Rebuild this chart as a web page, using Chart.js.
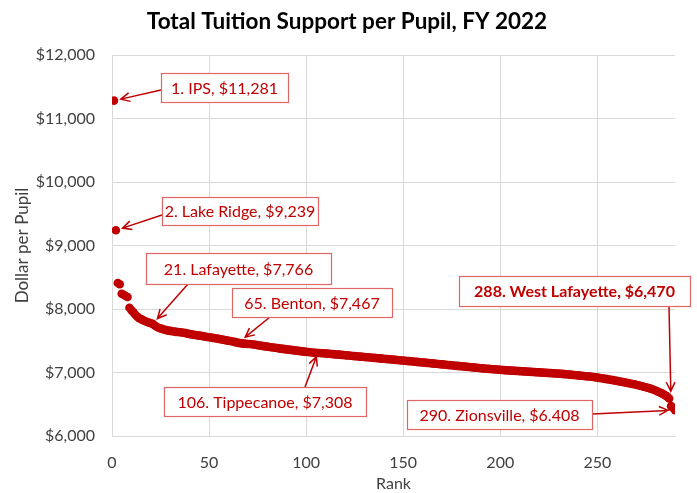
<!DOCTYPE html>
<html>
<head>
<meta charset="utf-8">
<script src="https://cdn.jsdelivr.net/npm/chart.js@4"></script>
<style>
  html, body { margin: 0; padding: 0; background: #fff; }
  canvas { display: block; }
</style>
</head>
<body>
<canvas id="chart" width="697" height="493"></canvas>
<script>
// tuition support per pupil, ordered by rank (1 = highest)
const values = [
  11281, 9239, 8410, 8390, 8240, 8225, 8205, 8190, 8020, 7980,
  7950, 7910, 7880, 7855, 7840, 7825, 7810, 7795, 7785, 7775,
  7766, 7740, 7720, 7705, 7695, 7685, 7675, 7665, 7660, 7655,
  7650, 7645, 7640, 7638, 7635, 7630, 7625, 7620, 7612, 7605,
  7600, 7595, 7590, 7585, 7580, 7576, 7570, 7565, 7560, 7555,
  7550, 7545, 7540, 7535, 7530, 7524, 7518, 7512, 7506, 7500,
  7495, 7488, 7482, 7475, 7467, 7462, 7458, 7455, 7452, 7450,
  7448, 7445, 7440, 7436, 7430, 7425, 7420, 7416, 7412, 7408,
  7402, 7398, 7393, 7389, 7385, 7380, 7376, 7372, 7368, 7364,
  7360, 7356, 7352, 7348, 7345, 7340, 7336, 7332, 7328, 7325,
  7322, 7318, 7315, 7312, 7310, 7308, 7306, 7304, 7302, 7300,
  7297, 7295, 7292, 7289, 7286, 7283, 7281, 7278, 7275, 7272,
  7270, 7267, 7264, 7261, 7258, 7256, 7253, 7250, 7247, 7244,
  7241, 7239, 7236, 7233, 7230, 7228, 7225, 7222, 7219, 7216,
  7213, 7210, 7208, 7205, 7202, 7199, 7196, 7193, 7190, 7188,
  7185, 7182, 7179, 7176, 7173, 7170, 7167, 7164, 7161, 7158,
  7155, 7152, 7149, 7146, 7143, 7140, 7137, 7134, 7131, 7128,
  7125, 7122, 7119, 7116, 7113, 7110, 7107, 7104, 7101, 7098,
  7095, 7092, 7089, 7086, 7083, 7080, 7077, 7074, 7071, 7068,
  7065, 7062, 7059, 7057, 7055, 7052, 7050, 7047, 7045, 7042,
  7040, 7038, 7036, 7034, 7032, 7030, 7028, 7026, 7024, 7022,
  7020, 7018, 7016, 7014, 7012, 7010, 7008, 7006, 7004, 7002,
  7000, 6998, 6996, 6994, 6992, 6990, 6988, 6986, 6984, 6982,
  6980, 6978, 6975, 6972, 6969, 6966, 6963, 6960, 6957, 6954,
  6951, 6948, 6945, 6942, 6939, 6936, 6932, 6928, 6924, 6920,
  6915, 6910, 6905, 6900, 6895, 6890, 6885, 6880, 6874, 6868,
  6862, 6856, 6850, 6844, 6838, 6832, 6826, 6820, 6814, 6808,
  6800, 6792, 6784, 6776, 6768, 6760, 6750, 6740, 6728, 6716,
  6702, 6688, 6675, 6660, 6640, 6620, 6590, 6470, 6440, 6408
]

const noteTexts = [
  '1. IPS, $11,281',
  '2. Lake Ridge, $9,239',
  '21. Lafayette, $7,766',
  '65. Benton, $7,467',
  '106. Tippecanoe, $7,308',
  '288. West Lafayette, $6,470',
  '290. Zionsville, $6.408'
]
const noteRanks = [1, 2, 21, 65, 106, 288, 290]

const title = 'Total Tuition Support per Pupil, FY 2022'
const xTitle = 'Rank'
const yTitle = 'Dollar per Pupil'
const xMax = 290, xStep = 50
const yMin = 6000, yMax = 12000, yStep = 1000

const red = '#c00000', boxLine = '#e06666', textColor = '#404040', gridColor = '#d9d9d9'
const font = 'Lato, "Open Sans", sans-serif'

// box: x, y, w, h, arrow start sx, sy, gap before point, bold
const noteBoxes = [
  [161, 73, 127, 29, 161, 90, 7, false],
  [162, 197, 156, 28, 162, 215, 7, false],
  [146, 253, 185, 31, 188, 284, 7, false],
  [232, 288, 160, 29, 270, 317, 9, false],
  [164, 387, 202, 29, 305, 387, 4, false],
  [459, 276, 231, 30, 669, 306, 15, true],
  [407, 400, 185, 29, 592, 414, 7, false]
]

const drawArrow = (ctx, sx, sy, tx, ty) => {
  const a = Math.atan2(ty - sy, tx - sx), head = 10
  ctx.beginPath()
  ctx.moveTo(sx, sy)
  ctx.lineTo(tx, ty)
  ctx.moveTo(tx - head * Math.cos(a - 0.45), ty - head * Math.sin(a - 0.45))
  ctx.lineTo(tx, ty)
  ctx.lineTo(tx - head * Math.cos(a + 0.45), ty - head * Math.sin(a + 0.45))
  ctx.stroke()
}

const notesPlugin = {
  id: 'notes',
  afterDatasetsDraw: (chart) => {
    const ctx = chart.ctx
    const xs = chart.scales.x, ys = chart.scales.y
    ctx.save()
    noteTexts.forEach((text, i) => {
      const [bx, by, bw, bh, sx, sy, gap, bold] = noteBoxes[i]
      const rank = noteRanks[i]
      const px = xs.getPixelForValue(rank), py = ys.getPixelForValue(values[rank - 1])
      const d = Math.hypot(px - sx, py - sy)
      const tx = px - (px - sx) / d * gap, ty = py - (py - sy) / d * gap

      ctx.strokeStyle = red
      ctx.lineWidth = 1.5
      drawArrow(ctx, sx, sy, tx, ty)

      ctx.fillStyle = '#fff'
      ctx.fillRect(bx, by, bw, bh)
      ctx.strokeStyle = boxLine
      ctx.lineWidth = 1.2
      ctx.strokeRect(bx + 0.5, by + 0.5, bw, bh)

      ctx.fillStyle = red
      ctx.font = `${bold ? 'bold ' : ''}16px ${font}`
      ctx.textAlign = 'center'
      ctx.textBaseline = 'middle'
      ctx.fillText(text, bx + bw / 2, by + bh / 2 + 1)
    })

    ctx.fillStyle = '#000'
    ctx.font = `bold 22.5px ${font}`
    ctx.textAlign = 'center'
    ctx.textBaseline = 'middle'
    ctx.fillText(title, 347, 22)
    ctx.restore()
  }
}

new Chart(document.getElementById('chart'), {
  type: 'scatter',
  data: {
    datasets: [{
      data: values.map((v, i) => ({ x: i + 1, y: v })),
      backgroundColor: red,
      borderColor: red,
      pointRadius: 4.3,
      pointHoverRadius: 4.3,
      borderWidth: 0
    }]
  },
  options: {
    responsive: false,
    animation: false,
    devicePixelRatio: 1,
    layout: { padding: { top: 55, right: 22, left: 0, bottom: 0 } },
    scales: {
      x: {
        type: 'linear',
        min: 0,
        max: xMax,
        border: { color: gridColor, width: 1 },
        grid: { color: gridColor, drawTicks: false },
        ticks: { stepSize: xStep, includeBounds: false, padding: 17, color: textColor, font: { family: font, size: 16 } },
        title: { display: true, text: xTitle, color: textColor, font: { family: font, size: 16 }, padding: { top: 0, bottom: 0 } },
        afterFit: (scale) => { scale.height = 57 }
      },
      y: {
        min: yMin,
        max: yMax,
        border: { color: gridColor, width: 1 },
        grid: { color: gridColor, drawTicks: false },
        ticks: {
          stepSize: yStep,
          padding: 17,
          color: textColor,
          font: { family: font, size: 16 },
          callback: (v) => '$' + v.toLocaleString('en-US')
        },
        title: { display: true, text: yTitle, color: textColor, font: { family: font, size: 17 }, padding: { top: 12, bottom: 0 } },
        afterFit: (scale) => { scale.width = 112 }
      }
    },
    plugins: {
      legend: { display: false },
      tooltip: { enabled: false }
    }
  },
  plugins: [notesPlugin]
})
</script>
</body>
</html>
